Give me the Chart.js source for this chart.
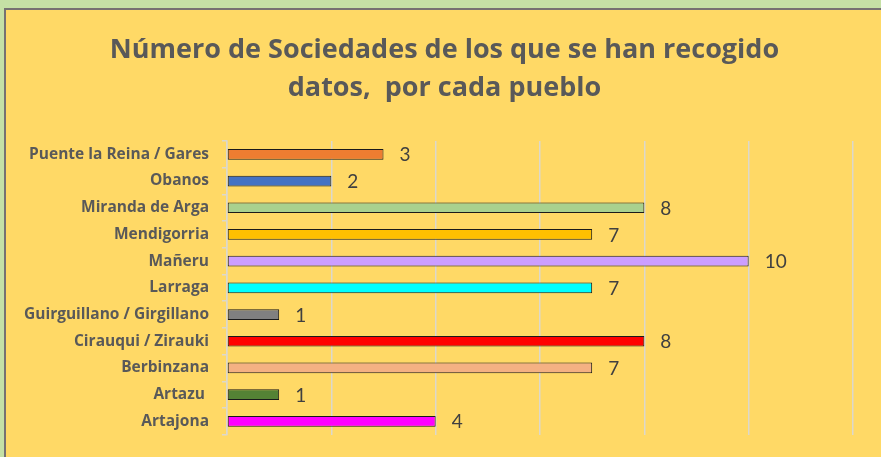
<!DOCTYPE html>
<html>
<head>
<meta charset="utf-8">
<script src="https://cdn.jsdelivr.net/npm/chart.js@4"></script>
<style>
  html, body { margin: 0; padding: 0; }
  body { width: 881px; height: 457px; background: #C5E0A5; overflow: hidden; position: relative; }
  #frame { position: absolute; left: 4px; top: 8px; width: 881px; height: 460px;
           background: #FFD966; border-left: 2px solid #767171; border-top: 2px solid #767171; }
  #wrap { position: absolute; left: 0; top: 0; width: 881px; height: 457px; }
</style>
</head>
<body>
<div id="frame"></div>
<div id="wrap"><canvas id="chart"></canvas></div>
<script>
// data, top to bottom
const pueblos = ['Puente la Reina / Gares', 'Obanos', 'Miranda de Arga', 'Mendigorria', 'Mañeru',
  'Larraga', 'Guirguillano / Girgillano', 'Cirauqui / Zirauki', 'Berbinzana', 'Artazu ', 'Artajona'];
const sociedades = [3, 2, 8, 7, 10, 7, 1, 8, 7, 1, 4];
const colores = ['#ED7D31', '#4472C4', '#A9D18E', '#FFC000', '#CC9EFF', '#00FFFF',
  '#808080', '#FF0000', '#F4B183', '#548235', '#FF00FF'];
const titulo = ['Número de Sociedades de los que se han recogido', 'datos,  por cada pueblo'];

// value at the end of each bar + the two-line title (centred on the whole frame, not the plot)
const extras = {
  id: 'extras',
  afterDatasetsDraw(chart) {
    const ctx = chart.ctx;
    const meta = chart.getDatasetMeta(0);
    ctx.save();
    ctx.font = '19px Lato';
    ctx.fillStyle = '#404040';
    ctx.textAlign = 'left';
    ctx.textBaseline = 'middle';
    meta.data.forEach((bar, i) => {
      ctx.fillText(String(sociedades[i]), bar.x + 16, bar.y + 1);
    });
    ctx.restore();
  },
  afterDraw(chart) {
    const ctx = chart.ctx;
    ctx.save();
    ctx.font = 'bold 27px "Open Sans"';
    ctx.fillStyle = '#595959';
    ctx.textAlign = 'center';
    ctx.textBaseline = 'middle';
    titulo.forEach((line, i) => ctx.fillText(line, chart.width / 2 + 4, 50 + i * 38));
    ctx.restore();
  }
};

new Chart(document.getElementById('chart'), {
  type: 'bar',
  data: {
    labels: pueblos,
    datasets: [{
      data: sociedades,
      backgroundColor: colores,
      borderColor: '#1a1a1a',
      borderWidth: 1,
      borderSkipped: false,
      barPercentage: 0.4,
      categoryPercentage: 1
    }]
  },
  options: {
    indexAxis: 'y',
    responsive: true,
    maintainAspectRatio: false,
    animation: false,
    layout: { padding: { left: 0, right: 28, top: 141, bottom: 22 } },
    plugins: {
      legend: { display: false },
      tooltip: { enabled: false },
      title: { display: false }
    },
    scales: {
      x: {
        min: 0, max: 12,
        ticks: { display: false, stepSize: 2 },
        grid: { color: '#DCD8CC', lineWidth: 1.5, drawTicks: false },
        border: { display: false }
      },
      y: {
        afterFit(scale) { scale.width = 227; },
        ticks: { color: '#595959', font: { family: 'Open Sans', size: 15.5, weight: 'bold' }, padding: 13 },
        grid: { offset: true, drawOnChartArea: false, tickLength: 5, color: '#DCD8CC', lineWidth: 1.5 },
        border: { display: true, color: '#DCD8CC', width: 1.5 }
      }
    }
  },
  plugins: [extras]
});
</script>
</body>
</html>
